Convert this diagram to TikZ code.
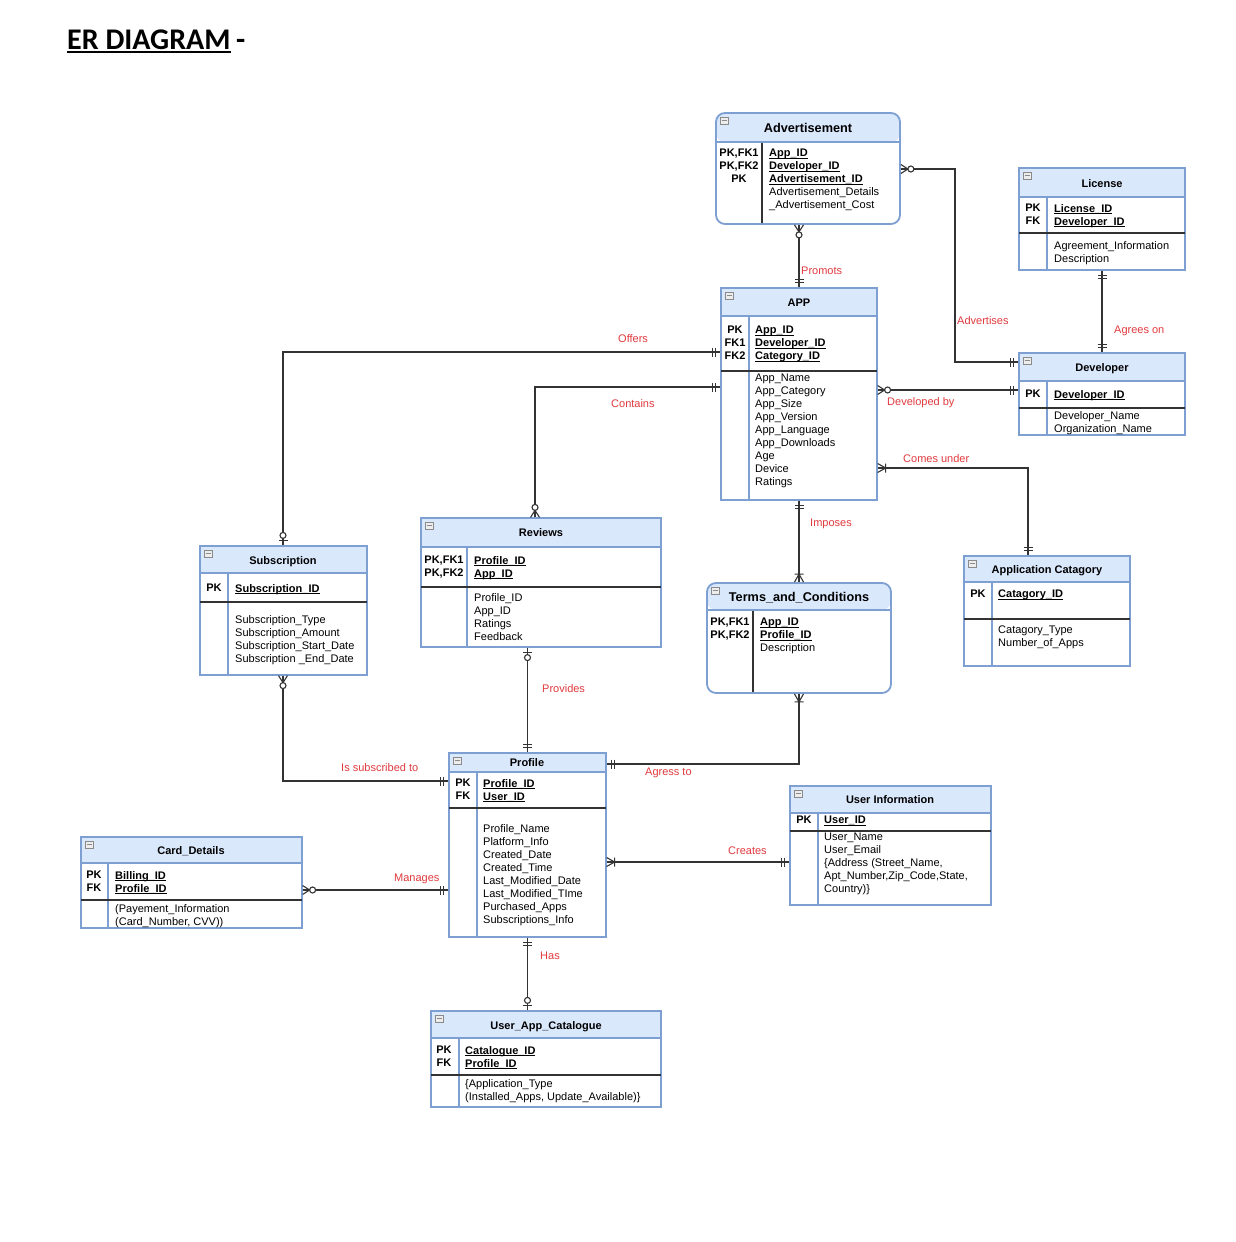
\documentclass[tikz,border=0pt]{standalone}
\usepackage{fontspec}
\setmainfont{Liberation Sans}
\newfontfamily\titlefont{Carlito}
\usetikzlibrary{fit}
\definecolor{hdr}{HTML}{DAE8FC}
\definecolor{bordc}{HTML}{7E9FD2}
\definecolor{lnc}{HTML}{333333}
\definecolor{lblc}{HTML}{E03A3E}
\definecolor{iconc}{HTML}{8A8A8A}
\newcommand\uf[1]{\setbox0\hbox{\textbf{#1}}\rlap{\rule[-1.9pt]{\wd0}{0.8pt}}\box0}
\tikzset{
 conn/.style={draw=lnc, line width=1.1pt},
 sepline/.style={draw=lnc, line width=1.2pt},
 dvdark/.style={draw=lnc, line width=1.1pt},
 dvblue/.style={draw=bordc, line width=1.1pt},
 iconst/.style={draw=iconc, line width=0.6pt},
 ttl/.style={anchor=base, inner sep=0pt, yshift=-4pt, font=\fontsize{11}{13}\selectfont\bfseries},
 bigttl/.style={anchor=base, inner sep=0pt, yshift=-4.6pt, font=\fontsize{12.7}{15}\selectfont\bfseries},
 keycol/.style={anchor=north, inner sep=0pt, yshift=4pt, align=center, font=\fontsize{11}{13}\selectfont\bfseries},
 fld/.style={anchor=north west, inner sep=0pt, yshift=4pt, align=left, font=\fontsize{11}{13}\selectfont},
 lbl/.style={anchor=base west, inner sep=0pt, yshift=-4pt, text=lblc, font=\fontsize{11}{13}\selectfont},
 mone/.pic={\draw[conn] (4.5,-4.5) -- (4.5,4.5) (8,-4.5) -- (8,4.5);},
 oone/.pic={\draw[conn] (4.5,-4.5) -- (4.5,4.5); \draw[conn, fill=white] (10,0) circle[radius=3pt];},
 omany/.pic={\draw[conn] (0,-4.5) -- (7,0) -- (0,4.5); \draw[conn, fill=white] (10,0) circle[radius=3pt];},
 mmany/.pic={\draw[conn] (0,-4.5) -- (8,0) -- (0,4.5) (8,-4.5) -- (8,4.5);},
}
% #1 name #2 x1 #3 y1 #4 x2 #5 y2 #6 header bottom #7 divider x #8 frame style #9 divider style
\newcommand\entity[9]{%
  \begin{scope}[#8]
    \clip (#2,#3) rectangle (#4,#5);
    \fill[hdr] (#2,#3) rectangle (#4,#6);
  \end{scope}
  \draw[#9] (#7,#6) -- (#7,#5);
  \draw[draw=bordc, line width=1.2pt] (#2,#6) -- (#4,#6);
  \node[fit={(#2,#3) (#4,#5)}, inner sep=0pt, draw=bordc, line width=1.2pt, #8] (#1) {};
  \begin{scope}[shift={(#2,#3)}]
    \draw[iconst, fill=iconc!15] (4,4) rectangle (12,11);
    \draw[iconst] (5.5,7.5) -- (10.5,7.5);
  \end{scope}
}
\begin{document}
\begin{tikzpicture}[x=1pt, y=-1pt]
\fill[white] (0,0) rectangle (1236,1242);
\useasboundingbox (0,0) rectangle (1236,1242);

% title
\node[anchor=base west, inner sep=0pt, font=\titlefont\fontsize{30}{36}\selectfont\bfseries] (title) at (67,49) {ER DIAGRAM};
\node[anchor=base west, inner sep=0pt, font=\titlefont\fontsize{30}{36}\selectfont\bfseries] (titledash) at (236,49) {-};
\draw[line width=1.8pt] ([yshift=-3pt]title.base west) -- ([yshift=-3pt]title.base east);

% Advertisement
\entity{adv}{716}{113}{900}{224}{142}{762}{rounded corners=9pt, line width=1.8pt}{dvdark}
\node[bigttl] (adv-t) at (808,128) {Advertisement};
\node[keycol] (adv-k) at (739,153) {PK,FK1\\PK,FK2\\PK};
\node[fld] (adv-f) at (769,153) {\uf{App\_ID}\\\uf{Developer\_ID}\\\uf{Advertisement\_ID}\\Advertisement\_Details\\\_Advertisement\_Cost};

% License
\entity{lic}{1019}{168}{1185}{270}{197}{1047}{sharp corners}{dvblue}
\draw[sepline] (1019,233) -- (1185,233);
\node[ttl] (lic-t) at (1102,183) {License};
\node[keycol] (lic-k) at (1033,208) {PK\\FK};
\node[fld] (lic-f) at (1054,208) {\uf{License\_ID}\\\uf{Developer\_ID}};
\node[fld] (lic-b) at (1054,245) {Agreement\_Information\\Description};

% Developer
\entity{dev}{1019}{353}{1185}{435}{381}{1047}{sharp corners}{dvblue}
\draw[sepline] (1019,408) -- (1185,408);
\node[ttl] (dev-t) at (1102,367) {Developer};
\node[keycol] (dev-k) at (1033,394) {PK};
\node[fld] (dev-f) at (1054,394) {\uf{Developer\_ID}};
\node[fld] (dev-b) at (1054,415) {Developer\_Name\\Organization\_Name};

% APP
\entity{app}{721}{288}{877}{500}{316}{749}{sharp corners}{dvblue}
\draw[sepline] (721,371) -- (877,371);
\node[ttl] (app-t) at (799,302) {APP};
\node[keycol] (app-k) at (735,330) {PK\\FK1\\FK2};
\node[fld] (app-f) at (755,330) {\uf{App\_ID}\\\uf{Developer\_ID}\\\uf{Category\_ID}};
\node[fld] (app-b) at (755,378) {App\_Name\\App\_Category\\App\_Size\\App\_Version\\App\_Language\\App\_Downloads\\Age\\Device\\Ratings};

% Subscription
\entity{sub}{200}{546}{367}{675}{573}{228}{sharp corners}{dvblue}
\draw[sepline] (200,602) -- (367,602);
\node[ttl] (sub-t) at (283,560) {Subscription};
\node[keycol] (sub-k) at (214,588) {PK};
\node[fld] (sub-f) at (235,588) {\uf{Subscription\_ID}};
\node[fld] (sub-b) at (235,619) {Subscription\_Type\\Subscription\_Amount\\Subscription\_Start\_Date\\Subscription \_End\_Date};

% Reviews
\entity{rev}{421}{518}{661}{647}{547}{467}{sharp corners}{dvblue}
\draw[sepline] (421,587) -- (661,587);
\node[ttl] (rev-t) at (541,532) {Reviews};
\node[keycol] (rev-k) at (444,560) {PK,FK1\\PK,FK2};
\node[fld] (rev-f) at (474,560) {\uf{Profile\_ID}\\\uf{App\_ID}};
\node[fld] (rev-b) at (474,597) {Profile\_ID\\App\_ID\\Ratings\\Feedback};

% Terms_and_Conditions
\entity{terms}{707}{583}{891}{693}{610}{753}{rounded corners=9pt, line width=1.8pt}{dvdark}
\node[bigttl] (terms-t) at (799,597) {Terms\_and\_Conditions};
\node[keycol] (terms-k) at (730,622) {PK,FK1\\PK,FK2};
\node[fld] (terms-f) at (760,622) {\uf{App\_ID}\\\uf{Profile\_ID}\\Description};

% Application Catagory
\entity{cat}{964}{556}{1130}{666}{582}{992}{sharp corners}{dvblue}
\draw[sepline] (964,619) -- (1130,619);
\node[ttl] (cat-t) at (1047,569) {Application Catagory};
\node[keycol] (cat-k) at (978,594) {PK};
\node[fld] (cat-f) at (998,594) {\uf{Catagory\_ID}};
\node[fld] (cat-b) at (998,630) {Catagory\_Type\\Number\_of\_Apps};

% Profile
\entity{prof}{449}{753}{606}{937}{772}{477}{sharp corners}{dvblue}
\draw[sepline] (449,808) -- (606,808);
\node[ttl] (prof-t) at (527,762) {Profile};
\node[keycol] (prof-k) at (463,783) {PK\\FK};
\node[fld] (prof-f) at (483,783) {\uf{Profile\_ID}\\\uf{User\_ID}};
\node[fld] (prof-b) at (483,828) {Profile\_Name\\Platform\_Info\\Created\_Date\\Created\_Time\\Last\_Modified\_Date\\Last\_Modified\_TIme\\Purchased\_Apps\\Subscriptions\_Info};

% User Information
\entity{ui}{790}{786}{991}{905}{813}{818}{sharp corners}{dvblue}
\draw[sepline] (790,831) -- (991,831);
\node[ttl] (ui-t) at (890,799) {User Information};
\node[keycol] (ui-k) at (804,820) {PK};
\node[fld] (ui-f) at (824,820) {\uf{User\_ID}};
\node[fld] (ui-b) at (824,837) {User\_Name\\User\_Email\\\{Address (Street\_Name,\\Apt\_Number,Zip\_Code,State,\\Country)\}};

% Card_Details
\entity{card}{81}{837}{302}{928}{863}{108}{sharp corners}{dvblue}
\draw[sepline] (81,900) -- (302,900);
\node[ttl] (card-t) at (191,850) {Card\_Details};
\node[keycol] (card-k) at (94,875) {PK\\FK};
\node[fld] (card-f) at (115,875) {\uf{Billing\_ID}\\\uf{Profile\_ID}};
\node[fld] (card-b) at (115,908) {(Payement\_Information\\(Card\_Number, CVV))};

% User_App_Catalogue
\entity{uac}{431}{1011}{661}{1107}{1038}{459}{sharp corners}{dvblue}
\draw[sepline] (431,1075) -- (661,1075);
\node[ttl] (uac-t) at (546,1025) {User\_App\_Catalogue};
\node[keycol] (uac-k) at (444,1050) {PK\\FK};
\node[fld] (uac-f) at (465,1050) {\uf{Catalogue\_ID}\\\uf{Profile\_ID}};
\node[fld] (uac-b) at (465,1083) {\{Application\_Type\\(Installed\_Apps, Update\_Available)\}};

% ---------- connectors ----------
% Promots
\draw[conn] (app.north |- adv.south) -- (app.north);
\pic[rotate=-90] at (app.north |- adv.south) {omany};
\pic[rotate=90] at (app.north) {mone};
\node[lbl] (l-prom) at (801,270) {Promots};

% Advertises
\coordinate (advbend1) at (955,169);
\coordinate (advbend2) at (955,362);
\draw[conn] (adv.east |- advbend1) -- (advbend1) -- (advbend2) -- (dev.west |- advbend2);
\pic at (adv.east |- advbend1) {omany};
\pic[rotate=180] at (dev.west |- advbend2) {mone};
\node[lbl] (l-adv) at (957,320) {Advertises};

% Agrees on
\draw[conn] (lic.south) -- (dev.north);
\pic[rotate=-90] at (lic.south) {mone};
\pic[rotate=90] at (dev.north) {mone};
\node[lbl] (l-agr) at (1114,329) {Agrees on};

% Developed by
\coordinate (devby) at (950,390);
\draw[conn] (app.east |- devby) -- (dev.west |- devby);
\pic at (app.east |- devby) {omany};
\pic[rotate=180] at (dev.west |- devby) {mone};
\node[lbl] (l-devby) at (887,401) {Developed by};

% Comes under
\coordinate (cbend) at (1028,468);
\draw[conn] (app.east |- cbend) -- (cbend) -- (cbend |- cat.north);
\pic at (app.east |- cbend) {mmany};
\pic[rotate=90] at (cbend |- cat.north) {mone};
\node[lbl] (l-comes) at (903,458) {Comes under};

% Offers
\coordinate (offbend) at (283,352);
\draw[conn] (offbend |- sub.north) -- (offbend) -- (app.west |- offbend);
\pic[rotate=90] at (offbend |- sub.north) {oone};
\pic[rotate=180] at (app.west |- offbend) {mone};
\node[lbl] (l-off) at (618,338) {Offers};

% Contains
\coordinate (conbend) at (535,387);
\draw[conn] (conbend |- rev.north) -- (conbend) -- (app.west |- conbend);
\pic[rotate=90] at (conbend |- rev.north) {omany};
\pic[rotate=180] at (app.west |- conbend) {mone};
\node[lbl] (l-con) at (611,403) {Contains};

% Imposes
\draw[conn] (app.south) -- (app.south |- terms.north);
\pic[rotate=-90] at (app.south) {mone};
\pic[rotate=90] at (app.south |- terms.north) {mmany};
\node[lbl] (l-imp) at (810,522) {Imposes};

% Agress to
\coordinate (agbend) at (799,764);
\draw[conn] (agbend |- terms.south) -- (agbend) -- (prof.east |- agbend);
\pic[rotate=-90] at (agbend |- terms.south) {mmany};
\pic at (prof.east |- agbend) {mone};
\node[lbl] (l-agress) at (645,771) {Agress to};

% Provides
\draw[conn] (prof.north |- rev.south) -- (prof.north);
\pic[rotate=-90] at (prof.north |- rev.south) {oone};
\pic[rotate=90] at (prof.north) {mone};
\node[lbl] (l-prov) at (542,688) {Provides};

% Is subscribed to
\coordinate (isbend) at (283,781);
\draw[conn] (isbend |- sub.south) -- (isbend) -- (prof.west |- isbend);
\pic[rotate=-90] at (isbend |- sub.south) {omany};
\pic[rotate=180] at (prof.west |- isbend) {mone};
\node[lbl] (l-subs) at (341,767) {Is subscribed to};

% Manages
\coordinate (manpt) at (380,890);
\draw[conn] (card.east |- manpt) -- (prof.west |- manpt);
\pic at (card.east |- manpt) {omany};
\pic[rotate=180] at (prof.west |- manpt) {mone};
\node[lbl] (l-man) at (394,877) {Manages};

% Creates
\coordinate (crpt) at (700,862);
\draw[conn] (prof.east |- crpt) -- (ui.west |- crpt);
\pic at (prof.east |- crpt) {mmany};
\pic[rotate=180] at (ui.west |- crpt) {mone};
\node[lbl] (l-cre) at (728,850) {Creates};

% Has
\draw[conn] (prof.south) -- (prof.south |- uac.north);
\pic[rotate=-90] at (prof.south) {mone};
\pic[rotate=90] at (prof.south |- uac.north) {oone};
\node[lbl] (l-has) at (540,955) {Has};
\end{tikzpicture}
\end{document}
